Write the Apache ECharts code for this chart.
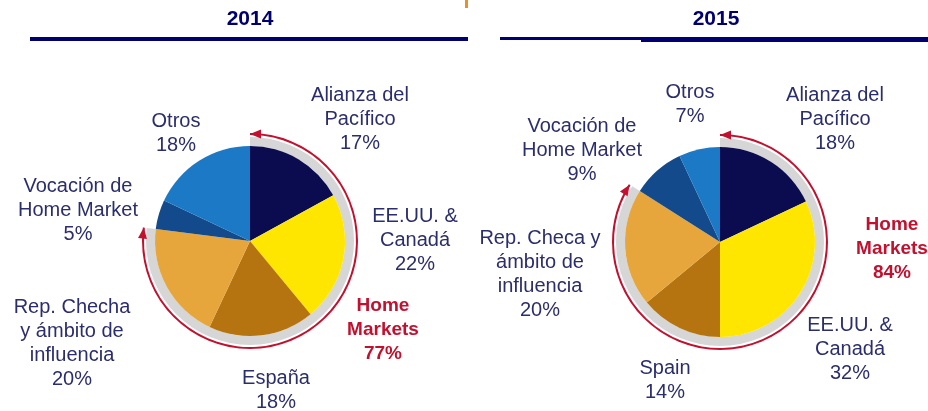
<!DOCTYPE html>
<html>
<head>
<meta charset="utf-8">
<script src="https://cdn.jsdelivr.net/npm/echarts@6/dist/echarts.min.js"></script>
<style>
html, body { margin: 0; padding: 0; background: #fff; }
#chart { width: 928px; height: 411px; }
</style>
</head>
<body>
<div id="chart"></div>
<script>
// data
const years = ['2014', '2015']
const categories2014 = ['Alianza del\nPacífico', 'EE.UU. &\nCanadá', 'España', 'Rep. Checha\ny ámbito de\ninfluencia', 'Vocación de\nHome Market', 'Otros']
const values2014 = [17, 22, 18, 20, 5, 18]
const categories2015 = ['Alianza del\nPacífico', 'EE.UU. &\nCanadá', 'Spain', 'Rep. Checa y\námbito de\ninfluencia', 'Vocación de\nHome Market', 'Otros']
const values2015 = [18, 32, 14, 20, 9, 7]
const homeMarketsName = 'Home\nMarkets'
const homeMarkets = [77, 84]

// layout
const FONT = "'Liberation Sans', Arial, sans-serif"
const TEXT_COLOR = '#2b2e6c'
const RED_COLOR = '#c3102e'
const NAVY = '#000070'
const SLICE_COLORS = ['#0b0b4f', '#ffe600', '#b5740f', '#e6a63c', '#124a8c', '#1c79c6']
const CENTERS = [[250, 241], [720, 242]]
const PIE_R = 95
const BAND_R = [95, 104]
const RED_R = [106, 108]
const LABEL_POS = [
  [[360, 119], [415, 240], [276, 390], [72, 343], [78, 210], [176, 133]],
  [[835, 119], [850, 349], [665, 380], [540, 274], [582, 150], [690, 104]]
]
const HOME_POS = [[383, 330], [892, 249]]

const chart = echarts.init(document.getElementById('chart'))

function centerLabel(pos) {
  return () => ({ x: pos[0], y: pos[1], align: 'center', verticalAlign: 'middle' })
}

function arrowHead(center, r, deg, dir) {
  const a = deg * Math.PI / 180
  const px = center[0] + r * Math.sin(a)
  const py = center[1] - r * Math.cos(a)
  let tx = Math.cos(a)
  let ty = Math.sin(a)
  if (dir < 0) {
    tx = -tx
    ty = -ty
  }
  const nx = -ty
  const ny = tx
  const len = 11
  const w = 4.5
  const bx = px - tx * len
  const by = py - ty * len
  return {
    type: 'polygon',
    silent: true,
    z: 10,
    shape: { points: [[px, py], [bx + nx * w, by + ny * w], [bx - nx * w, by - ny * w]] },
    style: { fill: RED_COLOR }
  }
}

const series = []
const graphic = []
const allCategories = [categories2014, categories2015]
const allValues = [values2014, values2015]

years.forEach((year, i) => {
  const center = CENTERS[i]
  series.push({
    type: 'pie',
    center,
    radius: [0, PIE_R],
    startAngle: 90,
    clockwise: true,
    avoidLabelOverlap: false,
    silent: true,
    itemStyle: { borderWidth: 0 },
    label: {
      show: true,
      position: 'outside',
      formatter: p => `${p.name}\n${p.value}%`,
      color: TEXT_COLOR,
      fontFamily: FONT,
      fontSize: 20,
      lineHeight: 24
    },
    labelLine: { show: false },
    labelLayout: params => centerLabel(LABEL_POS[i][params.dataIndex])(),
    data: allCategories[i].map((name, k) => ({
      name,
      value: allValues[i][k],
      itemStyle: { color: SLICE_COLORS[k] }
    }))
  })
  // grey band round the home markets
  series.push({
    type: 'pie',
    center,
    radius: BAND_R,
    startAngle: 90,
    silent: true,
    avoidLabelOverlap: false,
    z: 1,
    label: {
      show: true,
      position: 'outside',
      formatter: p => p.dataIndex === 0 ? `${p.name}\n${p.value}%` : '',
      color: RED_COLOR,
      fontFamily: FONT,
      fontSize: 19,
      fontWeight: 'bold',
      lineHeight: 24
    },
    labelLine: { show: false },
    labelLayout: centerLabel(HOME_POS[i]),
    data: [
      { name: homeMarketsName, value: homeMarkets[i], itemStyle: { color: '#d6d6d6' } },
      { name: '', value: 100 - homeMarkets[i], itemStyle: { color: 'transparent' } }
    ]
  })
  // red arrow line
  series.push({
    type: 'pie',
    center,
    radius: RED_R,
    startAngle: 90,
    silent: true,
    label: { show: false },
    labelLine: { show: false },
    data: [
      { value: homeMarkets[i], itemStyle: { color: RED_COLOR } },
      { value: 100 - homeMarkets[i], itemStyle: { color: 'transparent' } }
    ]
  })
  const rMid = (RED_R[0] + RED_R[1]) / 2
  graphic.push(arrowHead(center, rMid, 0, -1))
  graphic.push(arrowHead(center, rMid, homeMarkets[i] * 3.6, 1))
})

graphic.push(
  { type: 'text', x: 250, y: 19, silent: true, style: { text: years[0], align: 'center', verticalAlign: 'middle', fill: NAVY, font: `bold 21px ${FONT}` } },
  { type: 'text', x: 716, y: 19, silent: true, style: { text: years[1], align: 'center', verticalAlign: 'middle', fill: NAVY, font: `bold 21px ${FONT}` } },
  { type: 'rect', silent: true, shape: { x: 30, y: 37, width: 438, height: 4 }, style: { fill: NAVY } },
  { type: 'rect', silent: true, shape: { x: 500, y: 37, width: 141, height: 3 }, style: { fill: NAVY } },
  { type: 'rect', silent: true, shape: { x: 641, y: 37, width: 287, height: 5 }, style: { fill: NAVY } },
  { type: 'rect', silent: true, shape: { x: 465, y: 0, width: 3, height: 8 }, style: { fill: '#e8902a' } }
)

chart.setOption({
  backgroundColor: '#fff',
  animation: false,
  graphic,
  series
})
</script>
</body>
</html>
